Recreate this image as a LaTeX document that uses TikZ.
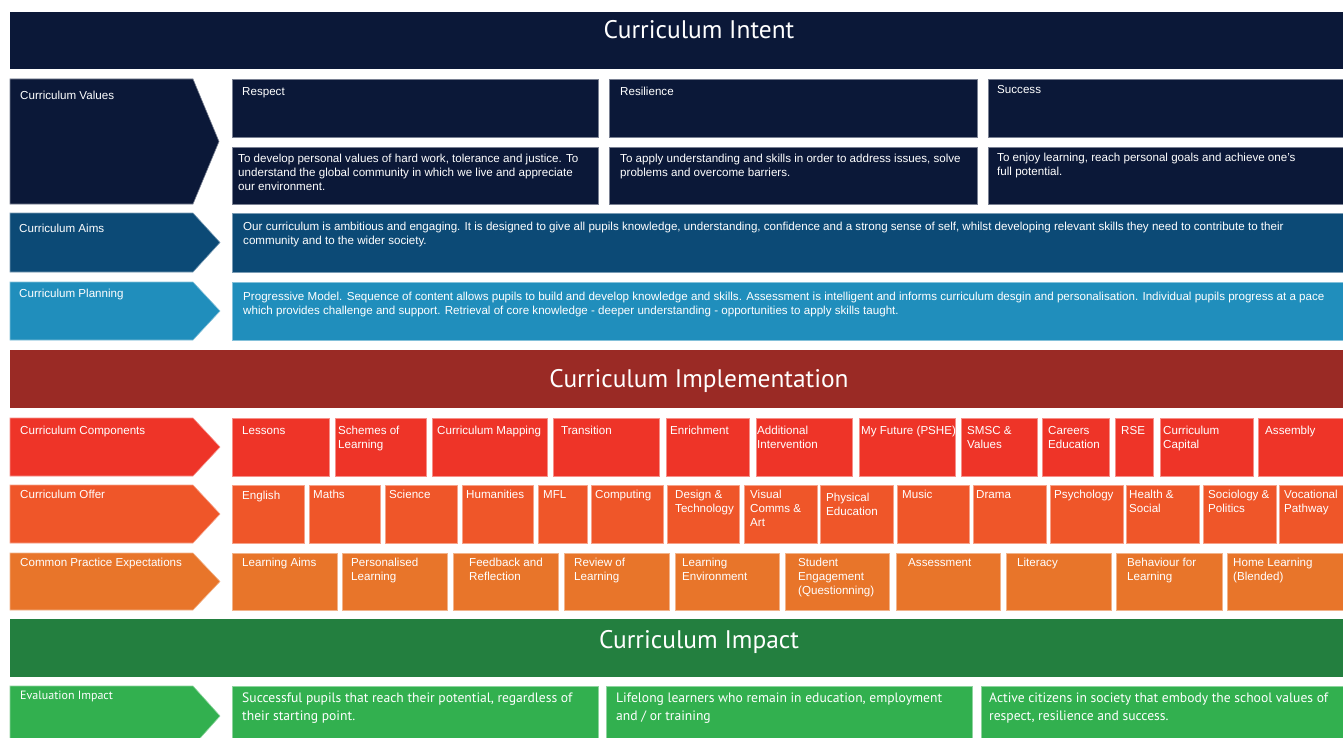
\documentclass[tikz,border=0pt]{standalone}
\usepackage{fontspec}
\setmainfont{Liberation Sans}
\newfontfamily\bandfont{PT Sans}

\definecolor{intentnavy}{HTML}{0B1838}
\definecolor{aimsblue}{HTML}{0C4A76}
\definecolor{planblue}{HTML}{208EBC}
\definecolor{implred}{HTML}{9A2A25}
\definecolor{compred}{HTML}{EE3428}
\definecolor{offerorange}{HTML}{EF5629}
\definecolor{cpeorange}{HTML}{E8752A}
\definecolor{impactgreen}{HTML}{237F3F}
\definecolor{evalgreen}{HTML}{32B04F}

\tikzset{
  box/.style={fill=#1, draw=#1!55!white, line width=0.6pt},
  band/.style={fill=#1},
  bandtitle/.style={text=white, inner sep=0pt, font=\bandfont\fontsize{25.4}{30}\selectfont},
  txt/.style={anchor=north west, inner sep=0pt, text=white, align=left,
    font=\fontsize{11.6}{14}\selectfont},
  imptxt/.style={anchor=north west, inner sep=0pt, text=white, align=left,
    font=\bandfont\fontsize{13.6}{18}\selectfont}
}

\begin{document}
\begin{tikzpicture}[x=1pt,y=-1pt]

  \useasboundingbox (0,0) rectangle (1343,738);
  \fill[white] (0,0) rectangle (1343,738);

  \fill[band=intentnavy] (10,12) rectangle (1350,69);
  \node[bandtitle] (intent) at (699,30) {Curriculum Intent};

  \draw[box=intentnavy] (10,79) -- (193,79) -- (219,141.5) -- (193,204) -- (10,204) -- cycle;
  \node[txt] (values) at (20,91) {Curriculum Values};
  \draw[box=intentnavy] (232,79) rectangle (598,137);
  \draw[box=intentnavy] (232,147) rectangle (598,204);
  \draw[box=intentnavy] (609,79) rectangle (977,137);
  \draw[box=intentnavy] (609,147) rectangle (977,204);
  \draw[box=intentnavy] (988,79) rectangle (1350,137);
  \draw[box=intentnavy] (988,147) rectangle (1350,204);
  \node[txt] (respect) at (242,87) {Respect};
  \node[txt] (resilience) at (620,87) {Resilience};
  \node[txt] (success) at (997,85) {Success};
  \node[txt] (respectdesc) at (238,154) {To develop personal values of hard work, tolerance and justice. To\\understand the global community in which we live and appreciate\\our environment.};
  \node[txt] (resiliencedesc) at (620,154) {To apply understanding and skills in order to address issues, solve\\problems and overcome barriers.};
  \node[txt] (successdesc) at (997,153) {To enjoy learning, reach personal goals and achieve one’s\\full potential.};

  \draw[box=aimsblue] (10,213) -- (193,213) -- (220,242.5) -- (193,272) -- (10,272) -- cycle;
  \node[txt] (aims) at (19,224) {Curriculum Aims};
  \draw[box=aimsblue] (232,213) rectangle (1350,272);
  \node[txt] (aimsdesc) at (243,222) {Our curriculum is ambitious and engaging. It is designed to give all pupils knowledge, understanding, confidence and a strong sense of self, whilst developing relevant skills they need to contribute to their\\community and to the wider society.};

  \draw[box=planblue] (10,282) -- (193,282) -- (220,311) -- (193,340) -- (10,340) -- cycle;
  \node[txt] (planning) at (19,289) {Curriculum Planning};
  \draw[box=planblue] (232,282) rectangle (1350,340);
  \node[txt] (planningdesc) at (243,292) {Progressive Model. Sequence of content allows pupils to build and develop knowledge and skills. Assessment is intelligent and informs curriculum desgin and personalisation. Individual pupils progress at a pace\\which provides challenge and support. Retrieval of core knowledge - deeper understanding - opportunities to apply skills taught.};

  \fill[band=implred] (10,350) rectangle (1350,408);
  \node[bandtitle] (implementation) at (699,381) {Curriculum Implementation};

  \draw[box=compred] (10,418) -- (193,418) -- (220,447) -- (193,476) -- (10,476) -- cycle;
  \node[txt] (components) at (20,426) {Curriculum Components};
  \draw[box=compred] (232,418) rectangle (329,476);
  \draw[box=compred] (335,418) rectangle (426,476);
  \draw[box=compred] (432,418) rectangle (547,476);
  \draw[box=compred] (553,418) rectangle (659,476);
  \draw[box=compred] (666,418) rectangle (749,476);
  \draw[box=compred] (756,418) rectangle (852,476);
  \draw[box=compred] (859,418) rectangle (955,476);
  \draw[box=compred] (961,418) rectangle (1037,476);
  \draw[box=compred] (1042,418) rectangle (1109,476);
  \draw[box=compred] (1115,418) rectangle (1153,476);
  \draw[box=compred] (1160,418) rectangle (1253,476);
  \draw[box=compred] (1258,418) rectangle (1350,476);
  \node[txt] (lessons) at (242,426) {Lessons};
  \node[txt] (schemes) at (338,426) {Schemes of\\Learning};
  \node[txt] (mapping) at (437,426) {Curriculum Mapping};
  \node[txt] (transition) at (561,426) {Transition};
  \node[txt] (enrichment) at (670,426) {Enrichment};
  \node[txt] (intervention) at (757,426) {Additional\\Intervention};
  \node[txt] (myfuture) at (861,426) {My Future (PSHE)};
  \node[txt] (smsc) at (967,426) {SMSC \&\\Values};
  \node[txt] (careers) at (1048,426) {Careers\\Education};
  \node[txt] (rse) at (1121,426) {RSE};
  \node[txt] (capital) at (1163,426) {Curriculum\\Capital};
  \node[txt] (assembly) at (1265,426) {Assembly};

  \draw[box=offerorange] (10,485) -- (193,485) -- (220,514) -- (193,543) -- (10,543) -- cycle;
  \node[txt] (offer) at (20,490) {Curriculum Offer};
  \draw[box=offerorange] (232,485) rectangle (304,543);
  \draw[box=offerorange] (309,485) rectangle (380,543);
  \draw[box=offerorange] (385,485) rectangle (457,543);
  \draw[box=offerorange] (462,485) rectangle (533,543);
  \draw[box=offerorange] (538,485) rectangle (587,543);
  \draw[box=offerorange] (591,485) rectangle (663,543);
  \draw[box=offerorange] (667,485) rectangle (739,543);
  \draw[box=offerorange] (744,485) rectangle (817,543);
  \draw[box=offerorange] (820,485) rectangle (893,543);
  \draw[box=offerorange] (897,485) rectangle (969,543);
  \draw[box=offerorange] (973,485) rectangle (1046,543);
  \draw[box=offerorange] (1050,485) rectangle (1123,543);
  \draw[box=offerorange] (1126,485) rectangle (1199,543);
  \draw[box=offerorange] (1203,485) rectangle (1276,543);
  \draw[box=offerorange] (1279,485) rectangle (1350,543);
  \node[txt] (english) at (242,491) {English};
  \node[txt] (maths) at (313,490) {Maths};
  \node[txt] (science) at (389,490) {Science};
  \node[txt] (humanities) at (466,490) {Humanities};
  \node[txt] (mfl) at (543,490) {MFL};
  \node[txt] (computing) at (595,490) {Computing};
  \node[txt] (design) at (675,490) {Design \&\\Technology};
  \node[txt] (visual) at (750,490) {Visual\\Comms \&\\Art};
  \node[txt] (physical) at (826,493) {Physical\\Education};
  \node[txt] (music) at (902,490) {Music};
  \node[txt] (drama) at (976,490) {Drama};
  \node[txt] (psychology) at (1054,490) {Psychology};
  \node[txt] (health) at (1129,490) {Health \&\\Social};
  \node[txt] (sociology) at (1208,490) {Sociology \&\\Politics};
  \node[txt] (vocational) at (1284,490) {Vocational\\Pathway};

  \draw[box=cpeorange] (10,553) -- (193,553) -- (220,581.5) -- (193,610) -- (10,610) -- cycle;
  \node[txt] (practice) at (20,558) {Common Practice Expectations};
  \draw[box=cpeorange] (232,553) rectangle (337,610);
  \draw[box=cpeorange] (342,553) rectangle (447,610);
  \draw[box=cpeorange] (453,553) rectangle (558,610);
  \draw[box=cpeorange] (564,553) rectangle (669,610);
  \draw[box=cpeorange] (675,553) rectangle (779,610);
  \draw[box=cpeorange] (785,553) rectangle (889,610);
  \draw[box=cpeorange] (896,553) rectangle (1000,610);
  \draw[box=cpeorange] (1006,553) rectangle (1111,610);
  \draw[box=cpeorange] (1116,553) rectangle (1222,610);
  \draw[box=cpeorange] (1227,553) rectangle (1350,610);
  \node[txt] (learningaims) at (242,558) {Learning Aims};
  \node[txt] (personalised) at (351,558) {Personalised\\Learning};
  \node[txt] (feedback) at (469,558) {Feedback and\\Reflection};
  \node[txt] (review) at (574,558) {Review of\\Learning};
  \node[txt] (environment) at (682,558) {Learning\\Environment};
  \node[txt] (engagement) at (798,558) {Student\\Engagement\\(Questionning)};
  \node[txt] (assessment) at (908,558) {Assessment};
  \node[txt] (literacy) at (1017,558) {Literacy};
  \node[txt] (behaviour) at (1127,558) {Behaviour for\\Learning};
  \node[txt] (homelearning) at (1233,558) {Home Learning\\(Blended)};

  \fill[band=impactgreen] (10,619) rectangle (1350,677);
  \node[bandtitle] (impact) at (699,642) {Curriculum Impact};

  \draw[box=evalgreen] (10,686) -- (193,686) -- (220,716) -- (193,746) -- (10,746) -- cycle;
  \node[txt, font=\bandfont\fontsize{12}{14}\selectfont] (evaluation) at (20,691) {Evaluation Impact};
  \draw[box=evalgreen] (232,686) rectangle (598,746);
  \draw[box=evalgreen] (606,686) rectangle (972,746);
  \draw[box=evalgreen] (981,686) rectangle (1350,746);
  \node[imptxt] (successful) at (242,693) {Successful pupils that reach their potential, regardless of\\their starting point.};
  \node[imptxt] (lifelong) at (616,693) {Lifelong learners who remain in education, employment\\and / or training};
  \node[imptxt] (citizens) at (989,693) {Active citizens in society that embody the school values of\\respect, resilience and success.};

\end{tikzpicture}
\end{document}
